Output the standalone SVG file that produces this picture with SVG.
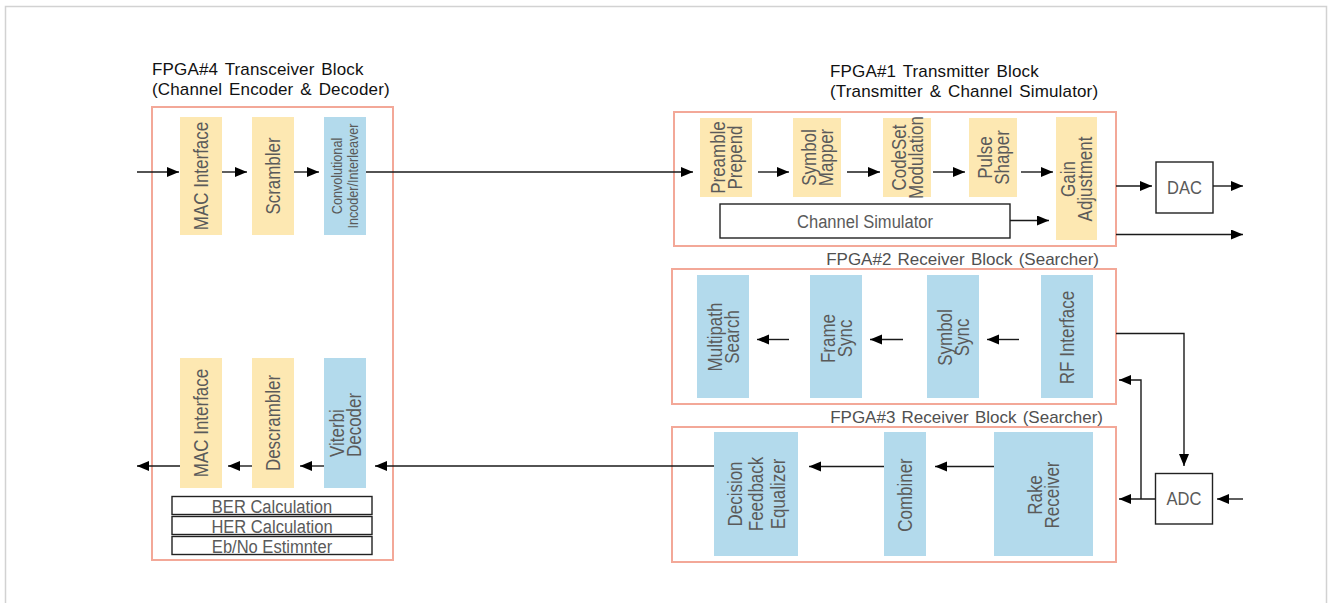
<svg xmlns="http://www.w3.org/2000/svg" width="1328" height="603" viewBox="0 0 1328 603">
  <style>
    .frame { fill: #ffffff; stroke: #f3a898; stroke-width: 2; }
    .y { fill: #fde8b2; }
    .b { fill: #b3daec; }
    .plain { fill: #ffffff; stroke: #222222; stroke-width: 1.4; }
    .v { font-family: "Liberation Sans", Arial, sans-serif; font-size: 19.5px; fill: #5a5a5a; text-anchor: middle; dominant-baseline: central; }
    .small { font-size: 14.5px; }
    .lbl { font-family: "Liberation Sans", Arial, sans-serif; font-size: 19px; fill: #5a5a5a; text-anchor: middle; }
    .title { font-family: "Liberation Sans", Arial, sans-serif; font-size: 17px; fill: #111111; word-spacing: 2px; letter-spacing: 0.15px; }
    .subtitle { font-family: "Liberation Sans", Arial, sans-serif; font-size: 17px; fill: #505050; text-anchor: end; word-spacing: 1.5px; }
    .wire { fill: none; stroke: #1a1a1a; stroke-width: 1.4; }
    .arrow { marker-end: url(#head); }
  </style>
  <defs>
    <marker id="head" markerUnits="userSpaceOnUse" markerWidth="13" markerHeight="11" refX="12" refY="5" orient="auto">
      <path d="M0,0 L12,5 L0,10 z" fill="#000000"/>
    </marker>
  </defs>

  <!-- page border -->
  <rect x="5.5" y="6.5" width="1321" height="620" fill="none" stroke="#d2d2d2" stroke-width="1.5"/>

  <!-- FPGA#4 transceiver block -->
  <g id="fpga4">
    <rect class="frame" x="152" y="107" width="241" height="453"/>
    <text class="title" x="152" y="75">FPGA#4 Transceiver Block</text>
    <text class="title" x="152" y="95">(Channel Encoder &amp; Decoder)</text>
  </g>
  <g id="mac-tx">
    <rect class="y" x="180" y="117" width="42" height="118"/>
    <text class="v" transform="translate(201,176) rotate(-90) scale(0.87,1)">MAC Interface</text>
  </g>
  <g id="scrambler">
    <rect class="y" x="252" y="117" width="42" height="118"/>
    <text class="v" transform="translate(273,176) rotate(-90) scale(0.87,1)">Scrambler</text>
  </g>
  <g id="conv-encoder">
    <rect class="b" x="324" y="117" width="42" height="118"/>
    <text class="v small" transform="translate(345,176) rotate(-90) scale(0.87,1)"><tspan x="0" y="-8">Convolutional</tspan><tspan x="0" y="8">Incoder/Interleaver</tspan></text>
  </g>
  <g id="mac-rx">
    <rect class="y" x="180" y="358" width="42" height="130"/>
    <text class="v" transform="translate(201,423) rotate(-90) scale(0.87,1)">MAC Interface</text>
  </g>
  <g id="descrambler">
    <rect class="y" x="252" y="358" width="42" height="130"/>
    <text class="v" transform="translate(273,423) rotate(-90) scale(0.87,1)">Descrambler</text>
  </g>
  <g id="viterbi">
    <rect class="b" x="324" y="358" width="42" height="130"/>
    <text class="v" style="text-anchor:start" transform="translate(345,457) rotate(-90) scale(0.87,1)"><tspan x="0" y="-8.5">Viterbi</tspan><tspan x="0" y="8.5">Decoder</tspan></text>
  </g>
  <g id="ber">
    <rect class="plain" x="172" y="496.5" width="200" height="18"/>
    <text class="lbl" transform="translate(272,512.5) scale(0.87,1)">BER Calculation</text>
  </g>
  <g id="her">
    <rect class="plain" x="172" y="516.5" width="200" height="18"/>
    <text class="lbl" transform="translate(272,532.5) scale(0.87,1)">HER Calculation</text>
  </g>
  <g id="ebno">
    <rect class="plain" x="172" y="536.5" width="200" height="18"/>
    <text class="lbl" transform="translate(272,552.5) scale(0.87,1)">Eb/No Estimnter</text>
  </g>

  <!-- FPGA#1 transmitter block -->
  <g id="fpga1">
    <rect class="frame" x="674" y="112" width="442" height="134"/>
    <text class="title" x="830" y="77">FPGA#1 Transmitter Block</text>
    <text class="title" x="830" y="97">(Transmitter &amp; Channel Simulator)</text>
  </g>
  <g id="preamble">
    <rect class="y" x="700" y="118" width="52" height="79"/>
    <text class="v" transform="translate(726,157.5) rotate(-90) scale(0.87,1)"><tspan x="0" y="-8.5">Preamble</tspan><tspan x="0" y="8.5">Prepend</tspan></text>
  </g>
  <g id="symbol-mapper">
    <rect class="y" x="793" y="118" width="48" height="79"/>
    <text class="v" transform="translate(817,157.5) rotate(-90) scale(0.87,1)"><tspan x="0" y="-8.5">Symbol</tspan><tspan x="0" y="8.5">Mapper</tspan></text>
  </g>
  <g id="codeset">
    <rect class="y" x="883" y="118" width="48" height="79"/>
    <text class="v" transform="translate(907,157.5) rotate(-90) scale(0.87,1)"><tspan x="0" y="-8.5">CodeSet</tspan><tspan x="0" y="8.5">Modulation</tspan></text>
  </g>
  <g id="pulse-shaper">
    <rect class="y" x="969" y="118" width="48" height="79"/>
    <text class="v" transform="translate(993,157.5) rotate(-90) scale(0.87,1)"><tspan x="0" y="-8.5">Pulse</tspan><tspan x="0" y="8.5">Shaper</tspan></text>
  </g>
  <g id="gain">
    <rect class="y" x="1056" y="117" width="41" height="123"/>
    <text class="v" transform="translate(1076.5,179) rotate(-90) scale(0.87,1)"><tspan x="0" y="-8.5">Gain</tspan><tspan x="0" y="8.5">Adjustment</tspan></text>
  </g>
  <g id="channel-sim">
    <rect class="plain" x="720" y="204" width="290" height="34"/>
    <text class="lbl" transform="translate(865,228) scale(0.87,1)">Channel Simulator</text>
  </g>
  <g id="dac">
    <rect class="plain" x="1156" y="162" width="57" height="51"/>
    <text class="lbl" transform="translate(1184.5,194) scale(0.87,1)">DAC</text>
  </g>

  <!-- FPGA#2 receiver block -->
  <g id="fpga2">
    <rect class="frame" x="672" y="269" width="444" height="135"/>
    <text class="subtitle" x="1099" y="265">FPGA#2 Receiver Block (Searcher)</text>
  </g>
  <g id="multipath">
    <rect class="b" x="697" y="275" width="52" height="123"/>
    <text class="v" transform="translate(723,337) rotate(-90) scale(0.87,1)"><tspan x="0" y="-8.5">Multipath</tspan><tspan x="0" y="8.5">Search</tspan></text>
  </g>
  <g id="frame-sync">
    <rect class="b" x="810" y="275" width="52" height="123"/>
    <text class="v" transform="translate(836,338.5) rotate(-90) scale(0.87,1)"><tspan x="0" y="-8.5">Frame</tspan><tspan x="0" y="8.5">Sync</tspan></text>
  </g>
  <g id="symbol-sync">
    <rect class="b" x="927" y="275" width="52" height="123"/>
    <text class="v" transform="translate(953,337.5) rotate(-90) scale(0.87,1)"><tspan x="0" y="-8.5">Symbol</tspan><tspan x="0" y="8.5">Sync</tspan></text>
  </g>
  <g id="rf-interface">
    <rect class="b" x="1041" y="275" width="52" height="123"/>
    <text class="v" transform="translate(1067,337.5) rotate(-90) scale(0.87,1)">RF Interface</text>
  </g>

  <!-- FPGA#3 receiver block -->
  <g id="fpga3">
    <rect class="frame" x="672" y="427" width="444" height="135"/>
    <text class="subtitle" x="1103" y="423">FPGA#3 Receiver Block (Searcher)</text>
  </g>
  <g id="dfe">
    <rect class="b" x="714" y="432" width="84" height="124"/>
    <text class="v" transform="translate(756,494) rotate(-90) scale(0.87,1)"><tspan x="0" y="-21.5">Decision</tspan><tspan x="0" y="0">Feedback</tspan><tspan x="0" y="21.5">Equalizer</tspan></text>
  </g>
  <g id="combiner">
    <rect class="b" x="884" y="432" width="42" height="124"/>
    <text class="v" transform="translate(905,495) rotate(-90) scale(0.87,1)">Combiner</text>
  </g>
  <g id="rake">
    <rect class="b" x="994" y="432" width="99" height="124"/>
    <text class="v" transform="translate(1043.5,495) rotate(-90) scale(0.87,1)"><tspan x="0" y="-8.5">Rake</tspan><tspan x="0" y="8.5">Receiver</tspan></text>
  </g>
  <g id="adc">
    <rect class="plain" x="1155.5" y="473.5" width="57" height="50.5"/>
    <text class="lbl" transform="translate(1184,505) scale(0.87,1)">ADC</text>
  </g>

  <!-- connectors -->
  <g id="connectors">
    <!-- transmit path -->
    <path class="wire arrow" d="M137,172 H179"/>
    <path class="wire arrow" d="M222,172 H247"/>
    <path class="wire arrow" d="M294,172 H319"/>
    <path class="wire arrow" d="M366,172 H693"/>
    <path class="wire arrow" d="M758,172 H789"/>
    <path class="wire arrow" d="M847,172 H880"/>
    <path class="wire arrow" d="M933,172 H965"/>
    <path class="wire arrow" d="M1021,172 H1053"/>
    <path class="wire arrow" d="M1010,220.5 H1049"/>
    <path class="wire arrow" d="M1116,186 H1152"/>
    <path class="wire arrow" d="M1213,186 H1243"/>
    <path class="wire arrow" d="M1116,234.5 H1243"/>
    <!-- searcher -->
    <path class="wire arrow" d="M789,339.5 H757"/>
    <path class="wire arrow" d="M903,339.5 H870"/>
    <path class="wire arrow" d="M1019,339.5 H987"/>
    <!-- RF loop through ADC -->
    <path class="wire arrow" d="M1116,333.5 H1184 V466"/>
    <path class="wire arrow" d="M1243,499 H1217"/>
    <path class="wire arrow" d="M1155,499 H1119"/>
    <path class="wire arrow" d="M1141,499 V380 H1119"/>
    <!-- receive path -->
    <path class="wire arrow" d="M994,466.5 H935"/>
    <path class="wire arrow" d="M884,466.5 H809"/>
    <path class="wire arrow" d="M714,466 H375"/>
    <path class="wire arrow" d="M324,466 H300"/>
    <path class="wire arrow" d="M252,466 H228"/>
    <path class="wire arrow" d="M180,466 H137"/>
  </g>
</svg>
